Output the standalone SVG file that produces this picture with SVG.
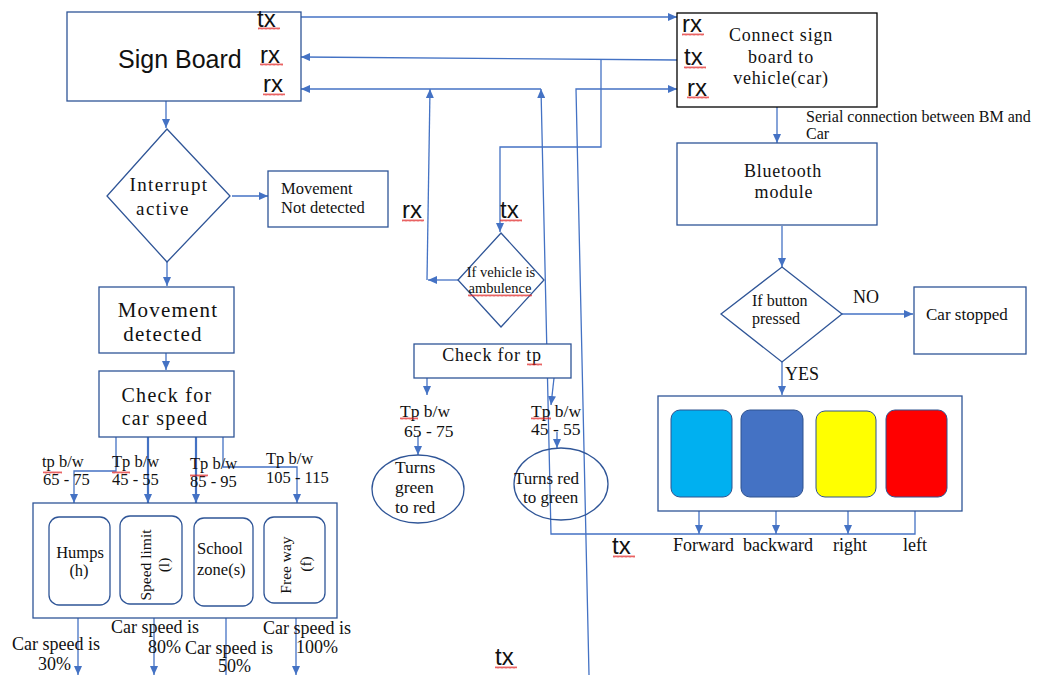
<svg xmlns="http://www.w3.org/2000/svg" width="1041" height="675" viewBox="0 0 1041 675">
<style>
.bx{fill:#fff;stroke:#2F5597;stroke-width:1.3}
.bk{fill:#fff;stroke:#000;stroke-width:1.3}
.ln{fill:none;stroke:#4472C4;stroke-width:1.3}
.th{stroke-width:2.2}
.t{font-family:"Liberation Serif","Times New Roman",serif;fill:#111}
.s{font-family:"Liberation Sans",Arial,sans-serif;fill:#111;font-size:24px}
.m{text-anchor:middle}
.sq{fill:url(#sq)}
.btn{stroke:#2F528F;stroke-width:1}
</style>
<defs>
<marker id="ar" viewBox="0 0 10 10" refX="10" refY="5" markerWidth="9" markerHeight="8" markerUnits="userSpaceOnUse" orient="auto" preserveAspectRatio="none">
<path d="M0,0 L10,5 L0,10 z" fill="#4472C4"/>
</marker>
<pattern id="sq" width="4" height="3" patternUnits="userSpaceOnUse">
<path d="M0,2.5 L1,0.5 L2,2.5 L3,0.5 L4,2.5" fill="none" stroke="#e02020" stroke-width="0.7"/>
</pattern>
</defs>
<rect width="1041" height="675" fill="#fff"/>

<g id="connectors">
<path class="ln" d="M301,17 L677,17" marker-end="url(#ar)"/>
<path class="ln" d="M677,60 L301,57" marker-end="url(#ar)"/>
<path class="ln" d="M541,89 L301,89" marker-end="url(#ar)"/>
<path class="ln" d="M458,280 L428,280" marker-end="url(#ar)"/>
<path class="ln" d="M427,280 L430,89" marker-end="url(#ar)"/>
<path class="ln" d="M915,511 L915,534 L551,534 L541,89" marker-end="url(#ar)"/>
<path class="ln" d="M589,675 L576,89 L677,89" marker-end="url(#ar)"/>
<path class="ln" d="M601,59 L601,147 L500,147 L500,232" marker-end="url(#ar)"/>
<path class="ln" d="M166,101 L166,128" marker-end="url(#ar)"/>
<path class="ln" d="M232,196 L268,196" marker-end="url(#ar)"/>
<path class="ln" d="M167,262 L167,286" marker-end="url(#ar)"/>
<path class="ln" d="M166,353 L166,370" marker-end="url(#ar)"/>
<path class="ln" d="M116,437 L116,471 L74,471 L74,503" marker-end="url(#ar)"/>
<path class="ln th" d="M148,437 L148,503" marker-end="url(#ar)"/>
<path class="ln th" d="M196,437 L196,503" marker-end="url(#ar)"/>
<path class="ln" d="M223,431 L223,467 L297,467 L297,503" marker-end="url(#ar)"/>
<path class="ln" d="M78,610 L78,675" marker-end="url(#ar)"/>
<path class="ln" d="M154,610 L154,675" marker-end="url(#ar)"/>
<path class="ln" d="M226,610 L226,690" marker-end="url(#ar)"/>
<path class="ln" d="M296,605 L296,675" marker-end="url(#ar)"/>
<path class="ln" d="M777,107 L777,143" marker-end="url(#ar)"/>
<path class="ln" d="M782,226 L782,267" marker-end="url(#ar)"/>
<path class="ln" d="M842,314 L913,314" marker-end="url(#ar)"/>
<path class="ln" d="M782,362 L782,395" marker-end="url(#ar)"/>
<path class="ln" d="M699,511 L699,534" marker-end="url(#ar)"/>
<path class="ln" d="M776,511 L776,534" marker-end="url(#ar)"/>
<path class="ln" d="M848,511 L848,534" marker-end="url(#ar)"/>
<path class="ln" d="M427,378 L427,395" marker-end="url(#ar)"/>
<path class="ln" d="M418,435 L418,455" marker-end="url(#ar)"/>
<path class="ln" d="M554,378 L551,405" marker-end="url(#ar)"/>
<path class="ln" d="M557,432 L557,448" marker-end="url(#ar)"/>
</g>

<g id="sign-board">
<rect class="bx" x="67" y="12" width="234" height="89"/>
<text class="s" x="118" y="68" style="font-size:25px">Sign Board</text>
<text class="s" x="257" y="27">tx</text>
<text class="s" x="260" y="63">rx</text>
<text class="s" x="263" y="92">rx</text>
<rect class="sq" x="258" y="27" width="22" height="3"/>
<rect class="sq" x="260" y="63" width="23" height="3"/>
<rect class="sq" x="263" y="93" width="22" height="3"/>
</g>

<g id="connect-box">
<rect class="bk" x="677" y="13" width="200" height="94"/>
<text class="t m" x="781" y="41" style="font-size:18px;letter-spacing:0.8px">Connect sign</text>
<text class="t m" x="781" y="63" style="font-size:18px;letter-spacing:0.8px">board to</text>
<text class="t m" x="781" y="84" style="font-size:18px;letter-spacing:0.8px">vehicle(car)</text>
<text class="s" x="682" y="32">rx</text>
<text class="s" x="684" y="65">tx</text>
<text class="s" x="687" y="96">rx</text>
<rect class="sq" x="682" y="33" width="22" height="3"/>
<rect class="sq" x="684" y="66" width="22" height="3"/>
<rect class="sq" x="687" y="96" width="22" height="3"/>
</g>

<g id="serial-label">
<text class="t" x="806" y="122" style="font-size:16px">Serial connection between BM and</text>
<text class="t" x="806" y="139" style="font-size:16px">Car</text>
</g>

<g id="bluetooth">
<rect class="bx" x="677" y="143" width="200" height="82"/>
<text class="t m" x="783" y="177" style="font-size:18px;letter-spacing:0.8px">Bluetooth</text>
<text class="t m" x="784" y="198" style="font-size:18px;letter-spacing:0.8px">module</text>
</g>

<g id="button-decision">
<polygon class="bx" points="782,267 842,314 782,362 721,314"/>
<text class="t" x="752" y="306" style="font-size:16px">If button</text>
<text class="t" x="752" y="324" style="font-size:16px">pressed</text>
<text class="t" x="853" y="303" style="font-size:18px">NO</text>
<text class="t" x="785" y="380" style="font-size:18px">YES</text>
</g>

<g id="car-stopped">
<rect class="bx" x="914" y="287" width="112" height="67"/>
<text class="t" x="926" y="320" style="font-size:17px">Car stopped</text>
</g>

<g id="buttons">
<rect class="bx" x="658" y="396" width="304" height="115"/>
<rect class="btn" x="671" y="410" width="61" height="87" rx="9" fill="#00B0F0"/>
<rect class="btn" x="741" y="410" width="62" height="87" rx="9" fill="#4472C4"/>
<rect class="btn" x="816" y="411" width="60" height="86" rx="9" fill="#FFFF00"/>
<rect class="btn" x="886" y="410" width="61" height="87" rx="9" fill="#FF0000"/>
<text class="t" x="673" y="551" style="font-size:18px">Forward</text>
<text class="t" x="743" y="551" style="font-size:18px">backward</text>
<text class="t" x="833" y="551" style="font-size:18px">right</text>
<text class="t" x="903" y="551" style="font-size:18px">left</text>
<text class="s" x="612" y="554">tx</text>
<rect class="sq" x="613" y="555" width="22" height="3"/>
</g>

<g id="interrupt">
<polygon class="bx" points="167,129 230,196 167,262 107,196"/>
<text class="t m" x="169" y="191" style="font-size:19px;letter-spacing:1.4px">Interrupt</text>
<text class="t m" x="163" y="215" style="font-size:19px;letter-spacing:1.4px">active</text>
</g>

<g id="movement-not-detected">
<rect class="bx" x="268" y="171" width="120" height="56"/>
<text class="t" x="281" y="194" style="font-size:16.5px">Movement</text>
<text class="t" x="281" y="213" style="font-size:16.5px">Not detected</text>
</g>

<g id="movement-detected">
<rect class="bx" x="99" y="287" width="135" height="66"/>
<text class="t m" x="168" y="317" style="font-size:21px;letter-spacing:1.2px">Movement</text>
<text class="t m" x="163" y="341" style="font-size:21px;letter-spacing:1.2px">detected</text>
</g>

<g id="check-car-speed">
<rect class="bx" x="99" y="371" width="135" height="66"/>
<text class="t m" x="167" y="402" style="font-size:20px;letter-spacing:1.3px">Check for</text>
<text class="t m" x="165" y="425" style="font-size:20px;letter-spacing:1.3px">car speed</text>
</g>

<g id="speed-labels">
<text class="t" x="42" y="467" style="font-size:16.5px">tp b/w</text>
<text class="t" x="43" y="485" style="font-size:16.5px">65 - 75</text>
<text class="t" x="112" y="467" style="font-size:16.5px">Tp b/w</text>
<text class="t" x="112" y="485" style="font-size:16.5px">45 - 55</text>
<text class="t" x="190" y="469" style="font-size:16.5px">Tp b/w</text>
<text class="t" x="190" y="487" style="font-size:16.5px">85 - 95</text>
<text class="t" x="266" y="464" style="font-size:16.5px">Tp b/w</text>
<text class="t" x="266" y="483" style="font-size:16.5px">105 - 115</text>
<rect class="sq" x="43" y="471" width="19" height="3"/>
<rect class="sq" x="112" y="471" width="18" height="3"/>
<rect class="sq" x="190" y="474" width="18" height="3"/>
</g>

<g id="zones">
<rect class="bx" x="33" y="503" width="304" height="115"/>
<rect class="bx" x="49" y="517" width="61" height="88" rx="10"/>
<rect class="bx" x="120" y="516" width="62" height="88" rx="10"/>
<rect class="bx" x="194" y="518" width="59" height="88" rx="10"/>
<rect class="bx" x="264" y="517" width="61" height="86" rx="10"/>
<text class="t m" x="80" y="558" style="font-size:16.5px">Humps</text>
<text class="t m" x="79" y="576" style="font-size:16.5px">(h)</text>
<text class="t m" transform="translate(151,565) rotate(-90)" style="font-size:15.5px">Speed limit</text>
<text class="t m" transform="translate(169,565) rotate(-90)" style="font-size:15.5px">(l)</text>
<text class="t" x="197" y="554" style="font-size:16.5px">School</text>
<text class="t" x="197" y="575" style="font-size:16.5px">zone(s)</text>
<text class="t m" transform="translate(291,565) rotate(-90)" style="font-size:15.5px">Free way</text>
<text class="t m" transform="translate(311,564) rotate(-90)" style="font-size:15.5px">(f)</text>
</g>

<g id="speed-results">
<text class="t" x="12" y="650" style="font-size:18px">Car speed is</text>
<text class="t" x="38" y="670" style="font-size:18px">30%</text>
<text class="t" x="111" y="633" style="font-size:18px">Car speed is</text>
<text class="t" x="148" y="653" style="font-size:18px">80%</text>
<text class="t" x="185" y="654" style="font-size:18px">Car speed is</text>
<text class="t" x="218" y="672" style="font-size:18px">50%</text>
<text class="t" x="263" y="634" style="font-size:18px">Car speed is</text>
<text class="t" x="296" y="653" style="font-size:18px">100%</text>
</g>

<g id="ambulance-decision">
<polygon class="bx" points="501,233 544,280 501,327 458,280"/>
<text class="t m" x="501" y="277" style="font-size:14.5px">If vehicle is</text>
<text class="t m" x="500" y="293" style="font-size:14.5px">ambulence</text>
<rect class="sq" x="468" y="294" width="64" height="3"/>
<text class="s" x="402" y="218">rx</text>
<text class="s" x="500" y="218">tx</text>
<rect class="sq" x="402" y="219" width="22" height="3"/>
<rect class="sq" x="500" y="219" width="22" height="3"/>
</g>

<g id="check-tp">
<rect class="bx" x="414" y="344" width="157" height="34"/>
<text class="t m" x="492" y="361" style="font-size:18px;letter-spacing:0.8px">Check for tp</text>
<rect class="sq" x="527" y="363" width="15" height="3"/>
</g>

<g id="tp-labels">
<text class="t" x="400" y="417" style="font-size:17.5px">Tp b/w</text>
<text class="t" x="404" y="437" style="font-size:17.5px">65 - 75</text>
<text class="t" x="531" y="417" style="font-size:17.5px">Tp b/w</text>
<text class="t" x="531" y="435" style="font-size:17.5px">45 - 55</text>
<rect class="sq" x="400" y="417" width="18" height="3"/>
<rect class="sq" x="531" y="417" width="20" height="3"/>
</g>

<g id="green-to-red">
<ellipse class="bx" cx="418" cy="489" rx="46" ry="34" fill="none"/>
<text class="t" x="395" y="473" style="font-size:17.5px">Turns</text>
<text class="t" x="395" y="493" style="font-size:17.5px">green</text>
<text class="t" x="395" y="513" style="font-size:17.5px">to red</text>
</g>

<g id="red-to-green">
<ellipse cx="561" cy="484" rx="47" ry="36" fill="none" stroke="#2F5597" stroke-width="1.3"/>
<text class="t" x="514" y="484" style="font-size:17px">Turns red</text>
<text class="t" x="523" y="503" style="font-size:17px">to green</text>
</g>

<g id="bottom-tx">
<text class="s" x="495" y="665">tx</text>
<rect class="sq" x="495" y="666" width="22" height="3"/>
</g>
</svg>
